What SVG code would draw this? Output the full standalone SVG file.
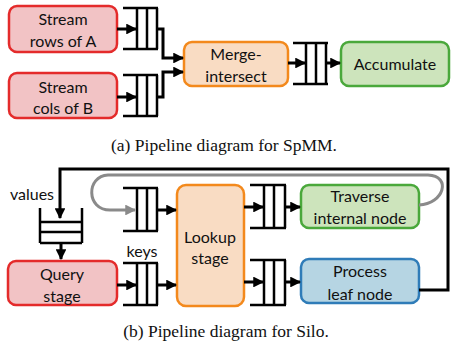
<svg xmlns="http://www.w3.org/2000/svg" width="452" height="346" viewBox="0 0 452 346">
<defs>
<style>
.t{font-family:Lato,"Open Sans","Liberation Sans",sans-serif;font-size:16px;fill:#111;text-anchor:middle;dominant-baseline:central}
.cap{font-family:"Liberation Serif","DejaVu Serif",serif;font-size:17.5px;fill:#111;text-anchor:middle}
.red{fill:#f2c3c5;stroke:#e42b2b;stroke-width:2.5}
.org{fill:#f9dcc3;stroke:#f3891c;stroke-width:2.5}
.grn{fill:#cde4bc;stroke:#4aa83b;stroke-width:2.5}
.blu{fill:#b6d5e3;stroke:#2f7cb8;stroke-width:2.5}
.q{fill:none;stroke:#000;stroke-width:2.5}
.w{fill:none;stroke:#000;stroke-width:3}
.g{fill:none;stroke:#8a8a8a;stroke-width:3}
</style>
<marker id="ah" viewBox="0 0 10 10" refX="9" refY="5" markerWidth="3.6" markerHeight="3.6" orient="auto" markerUnits="strokeWidth"><path d="M0,0L10,5L0,10z" fill="#000"/></marker>
<marker id="ahg" viewBox="0 0 10 10" refX="9" refY="5" markerWidth="3.6" markerHeight="3.6" orient="auto" markerUnits="strokeWidth"><path d="M0,0L10,5L0,10z" fill="#8a8a8a"/></marker>
</defs>

<g id="rowsA"><rect class="red" x="9" y="6" width="108" height="46" rx="8"/><text class="t" x="63" y="18">Stream</text><text class="t" x="63" y="40">rows of A</text></g>
<g id="colsB"><rect class="red" x="9" y="73" width="108" height="45" rx="8"/><text class="t" x="63" y="86">Stream</text><text class="t" x="63" y="107">cols of B</text></g>
<g id="qA"><path class="q" d="M123,8H158M123,49H158M137,8V49M147,8V49M157,8V49"/></g>
<g id="qB"><path class="q" d="M123,75H158M123,116H158M137,75V116M147,75V116M157,75V116"/></g>
<g id="merge"><rect class="org" x="184" y="42" width="104" height="44" rx="8"/><text class="t" x="236" y="53">Merge-</text><text class="t" x="236" y="75">intersect</text></g>
<g id="qM"><path class="q" d="M293,43H328M293,84H328M306,43V84M316,43V84M326,43V84"/></g>
<g id="accum"><rect class="grn" x="341" y="42" width="108" height="44" rx="8"/><text class="t" x="395" y="63">Accumulate</text></g>
<text class="cap" x="224" y="151">(a) Pipeline diagram for SpMM.</text>

<g id="values"><text class="t" x="32" y="193">values</text></g>
<g id="stack"><path class="q" d="M40,208V243M82,208V243M40,222H82M40,232H82M40,243H82"/></g>
<g id="query"><rect class="red" x="8" y="261" width="109" height="44" rx="8"/><text class="t" x="62" y="273">Query</text><text class="t" x="62" y="295">stage</text></g>
<g id="keys"><text class="t" x="142" y="250">keys</text></g>
<g id="qK"><path class="q" d="M123,263H158M123,305H158M137,263V305M147,263V305M157,263V305"/></g>
<g id="qL"><path class="q" d="M123,188H158M123,231H158M137,188V231M147,188V231M157,188V231"/></g>
<g id="lookup"><rect class="org" x="177" y="185" width="67" height="121" rx="9"/><text class="t" x="210" y="236">Lookup</text><text class="t" x="210" y="257">stage</text></g>
<g id="qT"><path class="q" d="M250,185H286M250,228H286M264,185V228M274,185V228M285,185V228"/></g>
<g id="qP"><path class="q" d="M250,260H286M250,305H286M264,260V305M274,260V305M285,260V305"/></g>
<g id="traverse"><rect class="grn" x="301" y="185" width="118" height="43" rx="8"/><text class="t" x="360" y="195">Traverse</text><text class="t" x="360" y="217">internal node</text></g>
<g id="process"><rect class="blu" x="301" y="259" width="118" height="44" rx="8"/><text class="t" x="360" y="270">Process</text><text class="t" x="360" y="293">leaf node</text></g>
<text class="cap" x="226" y="337">(b) Pipeline diagram for Silo.</text>

<g id="connectors">
<path class="w" d="M117,29H136" marker-end="url(#ah)"/>
<path class="w" d="M117,97H136" marker-end="url(#ah)"/>
<path class="w" d="M157,29H163V58H183" marker-end="url(#ah)"/>
<path class="w" d="M157,97H163V72H183" marker-end="url(#ah)"/>
<path class="w" d="M288,63H305" marker-end="url(#ah)"/>
<path class="w" d="M326,63H340" marker-end="url(#ah)"/>
<path class="w" d="M419,290H448V169H60V218" marker-end="url(#ah)"/>
<path class="w" d="M61,243V259" marker-end="url(#ah)"/>
<path class="w" d="M117,285H136" marker-end="url(#ah)"/>
<path class="w" d="M157,285H176" marker-end="url(#ah)"/>
<path class="w" d="M157,210H176" marker-end="url(#ah)"/>
<path class="w" d="M244,207H263" marker-end="url(#ah)"/>
<path class="w" d="M285,207H300" marker-end="url(#ah)"/>
<path class="w" d="M244,282H263" marker-end="url(#ah)"/>
<path class="w" d="M285,282H300" marker-end="url(#ah)"/>
<path class="g" d="M419,205C444,204 452,176 428,175H108C86,176 86,210 110,210H135" marker-end="url(#ahg)"/>
</g>
</svg>
